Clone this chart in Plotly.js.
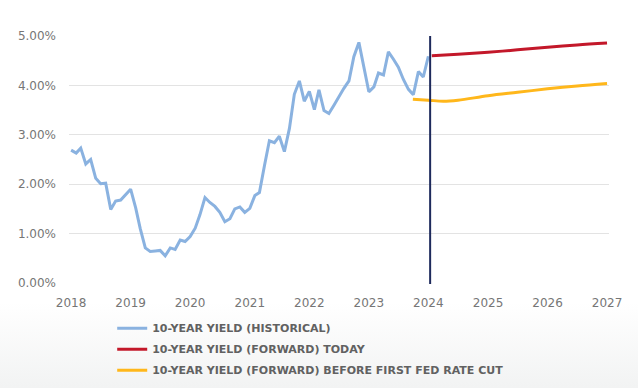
<!DOCTYPE html>
<html>
<head>
<meta charset="utf-8">
<script src="https://cdn.plot.ly/plotly-3.0.1.min.js"></script>
<style>
html,body{margin:0;padding:0;}
body{width:638px;height:388px;background:linear-gradient(to bottom,#ffffff 0%,#ffffff 78%,#f2f3f3 100%);}
#chart{width:638px;height:388px;}
</style>
</head>
<body>
<div id="chart"></div>
<script>
// Historical 10-year yield, monthly from Jan 2018 to Jan 2024 (%)
const histStart = [2018, 1];
const histYield = [
  2.69, 2.63, 2.73, 2.41, 2.50, 2.12, 2.01, 2.02, 1.49, 1.66, 1.68, 1.78,
  1.90, 1.52, 1.10, 0.71, 0.64, 0.65, 0.66, 0.55, 0.71, 0.68, 0.87, 0.84,
  0.94, 1.11, 1.38, 1.73, 1.63, 1.55, 1.43, 1.24, 1.30, 1.50, 1.54, 1.43,
  1.51, 1.77, 1.83, 2.38, 2.88, 2.84, 2.97, 2.66, 3.13, 3.82, 4.09, 3.68,
  3.88, 3.51, 3.91, 3.49, 3.43, 3.60, 3.77, 3.94, 4.09, 4.58, 4.87, 4.38,
  3.87, 3.97, 4.25, 4.21, 4.68, 4.53, 4.37, 4.12, 3.92, 3.81, 4.28, 4.17,
  4.59
];
// Forward curve today
const fwdTodayDates = ['2024-01-22','2024-07-01','2025-01-01','2025-07-01','2026-01-01','2026-07-01','2027-01-01'];
const fwdTodayYield = [4.60, 4.63, 4.67, 4.72, 4.77, 4.82, 4.86];
// Forward curve before first Fed rate cut
const fwdCutDates = ['2023-09-28','2024-01-01','2024-04-01','2024-07-01','2025-01-01','2025-07-01','2026-01-01','2026-07-01','2027-01-01'];
const fwdCutYield = [3.72, 3.70, 3.68, 3.70, 3.79, 3.86, 3.93, 3.99, 4.04];
// Axis labels
const yearTicks = ['2018','2019','2020','2021','2022','2023','2024','2025','2026','2027'];
const yTicks = [0, 1, 2, 3, 4, 5];
const yTickText = ['0.00%','1.00%','2.00%','3.00%','4.00%','5.00%'];
const todayMarker = '2024-01-12';
const seriesNames = ['10-YEAR YIELD (HISTORICAL)','10-YEAR YIELD (FORWARD) TODAY','10-YEAR YIELD (FORWARD) BEFORE FIRST FED RATE CUT'];

const histDates = histYield.map((_, i) => {
  const m = histStart[1] - 1 + i;
  const y = histStart[0] + Math.floor(m / 12);
  const mm = (m % 12) + 1;
  return y + '-' + String(mm).padStart(2, '0') + '-01';
});

const traces = [
  {x: histDates, y: histYield, name: seriesNames[0], legendgroup: 'a', type: 'scatter', mode: 'lines',
   line: {color: '#8ab2e0', width: 3}},
  {x: fwdTodayDates, y: fwdTodayYield, name: seriesNames[1], legendgroup: 'b', type: 'scatter', mode: 'lines',
   line: {color: '#c3182a', width: 3, shape: 'spline'}},
  {x: fwdCutDates, y: fwdCutYield, name: seriesNames[2], legendgroup: 'c', type: 'scatter', mode: 'lines',
   line: {color: '#ffb71b', width: 3, shape: 'spline'}}
];

const layout = {
  width: 638, height: 388,
  margin: {l: 69, r: 29, t: 35, b: 104, autoexpand: false},
  paper_bgcolor: 'rgba(0,0,0,0)',
  plot_bgcolor: 'rgba(0,0,0,0)',
  font: {family: 'DejaVu Sans, sans-serif', size: 12, color: '#767676'},
  showlegend: true,
  legend: {
    orientation: 'v', x: 0.08, xanchor: 'left', y: -0.119, yanchor: 'top',
    font: {family: 'DejaVu Sans, sans-serif', size: 11, color: '#616161', weight: 'bold'},
    bgcolor: 'rgba(0,0,0,0)', itemwidth: 30, tracegroupgap: 2
  },
  xaxis: {
    type: 'date',
    range: ['2017-12-19', '2027-01-13'],
    tickvals: yearTicks.map(y => y + '-01-01'),
    ticktext: yearTicks,
    showgrid: false, zeroline: false, showline: false,
    ticks: '', ticklabelstandoff: 10,
    tickfont: {family: 'DejaVu Sans, sans-serif', size: 12, color: '#767676'}
  },
  yaxis: {
    range: [-0.02, 5.02],
    tickvals: yTicks, ticktext: yTickText,
    showgrid: true, gridcolor: '#e3e3e3', gridwidth: 1,
    zeroline: false, showline: false, ticks: '', ticklabelstandoff: 12,
    tickfont: {family: 'DejaVu Sans, sans-serif', size: 12, color: '#767676'}
  },
  shapes: [
    {type: 'line', xref: 'x', yref: 'y', x0: todayMarker, x1: todayMarker, y0: -0.04, y1: 5.0,
     line: {color: '#1e2a5c', width: 2}}
  ]
};

Plotly.newPlot('chart', traces, layout, {displayModeBar: false, staticPlot: true});
</script>
</body>
</html>
